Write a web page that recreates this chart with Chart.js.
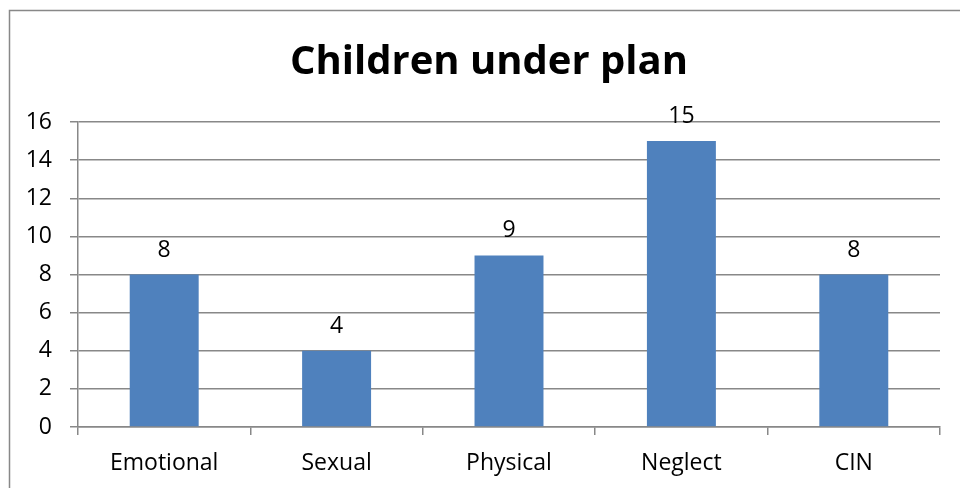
<!DOCTYPE html>
<html>
<head>
<meta charset="utf-8">
<script src="https://cdn.jsdelivr.net/npm/chart.js@4"></script>
<style>
  html, body { margin: 0; padding: 0; background: #fff; }
  canvas { display: block; }
</style>
</head>
<body>
<canvas id="c" width="960" height="488"></canvas>
<script>
const categories = ['Emotional', 'Sexual', 'Physical', 'Neglect', 'CIN'];
const children = [8, 4, 9, 15, 8];
const yTicks = [0, 2, 4, 6, 8, 10, 12, 14, 16];
const chartTitle = 'Children under plan';

const FONT = '"Open Sans", "Liberation Sans", sans-serif';
const GRID = '#888888';

// Frame round the whole chart and the centred heading
const framePlugin = {
  id: 'frame',
  beforeDraw(chart) {
    const ctx = chart.ctx;
    ctx.save();
    ctx.strokeStyle = GRID;
    ctx.lineWidth = 1.5;
    ctx.strokeRect(9.5, 10.5, 1000, 600);
    ctx.font = 'bold 40px ' + FONT;
    ctx.fillStyle = '#000';
    ctx.textAlign = 'center';
    ctx.textBaseline = 'alphabetic';
    ctx.fillText(chartTitle, 489, 74);
    ctx.restore();
  }
};

// Value written above each bar
const valueLabels = {
  id: 'valueLabels',
  afterDatasetsDraw(chart) {
    const ctx = chart.ctx;
    const meta = chart.getDatasetMeta(0);
    ctx.save();
    ctx.font = '23px ' + FONT;
    ctx.fillStyle = '#000';
    ctx.textAlign = 'center';
    ctx.textBaseline = 'alphabetic';
    meta.data.forEach((bar, i) => {
      ctx.fillText(String(chart.data.datasets[0].data[i]), bar.x, bar.y - 18);
    });
    ctx.restore();
  }
};

new Chart(document.getElementById('c'), {
  type: 'bar',
  data: {
    labels: categories,
    datasets: [{
      data: children,
      backgroundColor: '#4F81BD',
      borderWidth: 0,
      barPercentage: 0.4,
      categoryPercentage: 1
    }]
  },
  options: {
    responsive: false,
    animation: false,
    devicePixelRatio: 1,
    layout: { padding: { left: 0, right: 20, top: 122, bottom: 0 } },
    plugins: {
      legend: { display: false },
      tooltip: { enabled: false },
      title: { display: false }
    },
    scales: {
      x: {
        afterFit(scale) { scale.height = 61; },
        grid: {
          drawOnChartArea: false,
          drawTicks: true,
          tickLength: 8,
          color: GRID,
          lineWidth: 1.5,
          offset: true
        },
        border: { display: true, color: GRID, width: 1.5 },
        ticks: {
          color: '#000',
          font: { family: FONT, size: 23 },
          padding: 15,
          maxRotation: 0
        }
      },
      y: {
        min: 0,
        max: 16,
        afterFit(scale) { scale.width = 78; },
        afterBuildTicks(scale) { scale.ticks = yTicks.map(v => ({ value: v })); },
        grid: {
          color: GRID,
          lineWidth: 1.5,
          tickLength: 8
        },
        border: { display: true, color: GRID, width: 1.5 },
        ticks: {
          color: '#000',
          font: { family: FONT, size: 23 },
          padding: 18
        }
      }
    }
  },
  plugins: [framePlugin, valueLabels]
});
</script>
</body>
</html>
